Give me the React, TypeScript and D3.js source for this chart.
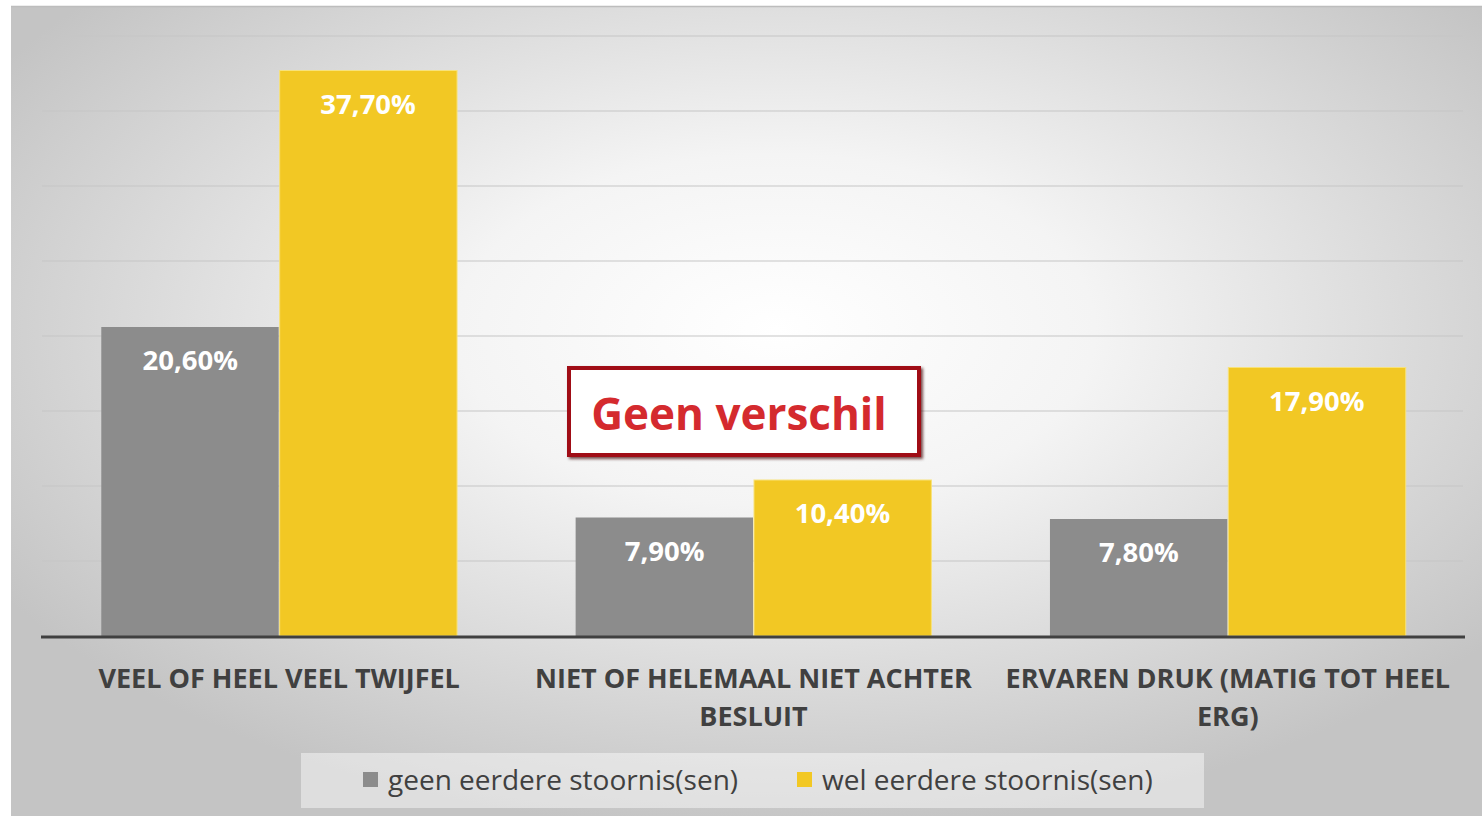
import React from "react";
import * as d3 from "d3";

const categories = [
  "VEEL OF HEEL VEEL TWIJFEL",
  "NIET OF HELEMAAL NIET ACHTER BESLUIT",
  "ERVAREN DRUK (MATIG TOT HEEL ERG)"
];
const categoryLines = [
  ["VEEL OF HEEL VEEL TWIJFEL"],
  ["NIET OF HELEMAAL NIET ACHTER", "BESLUIT"],
  ["ERVAREN DRUK (MATIG TOT HEEL", "ERG)"]
];
const seriesNames = ["geen eerdere stoornis(sen)", "wel eerdere stoornis(sen)"];
const geenValues = [20.6, 7.9, 7.8];
const welValues = [37.7, 10.4, 17.9];
const yTicks = [0, 5, 10, 15, 20, 25, 30, 35, 40];
const colors = ["#8c8c8c", "#f2c824"];

const W = 1482;
const H = 816;
const plot = { left: 42, right: 1465, top: 36, bottom: 636 };
const font = "'Open Sans', 'DejaVu Sans', sans-serif";

const fmt = (v: number) => v.toFixed(2).replace(".", ",") + "%";

export default function App() {
  const x0 = d3
    .scaleBand<string>()
    .domain(categories)
    .range([plot.left, plot.right])
    .paddingInner(0.25)
    .paddingOuter(0.125);
  const x1 = d3
    .scaleBand<string>()
    .domain(seriesNames)
    .range([0, x0.bandwidth()]);
  const y = d3.scaleLinear().domain([0, 40]).range([plot.bottom, plot.top]);

  const series = [geenValues, welValues];

  return (
    <svg
      width={W}
      height={H}
      style={{ position: "absolute", left: 0, top: 0, display: "block" }}
    >
      <defs>
        <radialGradient id="bg" cx="0.52" cy="0.4" r="0.62" fx="0.52" fy="0.4">
          <stop offset="0" stopColor="#ffffff" />
          <stop offset="0.35" stopColor="#f4f4f4" />
          <stop offset="1" stopColor="#c4c4c4" />
        </radialGradient>
        <filter id="shadow" x="-5%" y="-10%" width="115%" height="130%">
          <feDropShadow dx="2" dy="2" stdDeviation="1.5" floodColor="#400000" floodOpacity="0.7" />
        </filter>
      </defs>
      <rect x={0} y={0} width={W} height={H} fill="#ffffff" />
      <rect x={11} y={6} width={W - 11} height={H - 6} fill="url(#bg)" />
      <line x1={11} x2={W} y1={6.5} y2={6.5} stroke="#bdbdbd" strokeWidth={1.5} />

      {yTicks.slice(1).map(t => (
        <line
          key={t}
          x1={plot.left}
          x2={plot.right - 2}
          y1={y(t)}
          y2={y(t)}
          stroke="#c6c6c6"
          strokeWidth={1.2}
        />
      ))}

      {categories.map((c, i) => (
        <g key={c} transform={`translate(${x0(c)},0)`}>
          {seriesNames.map((s, j) => {
            const v = series[j][i];
            const bx = x1(s) as number;
            const bw = x1.bandwidth();
            return (
              <g key={s}>
                <rect
                  x={bx + (j === 1 ? 0.5 : 0)}
                  y={y(v)}
                  width={bw - 0.5}
                  height={y(0) - y(v)}
                  fill={colors[j]}
                  stroke={j === 1 ? "#f7e27a" : "none"}
                  strokeWidth={1}
                />
                <text
                  x={bx + bw / 2}
                  y={y(v) + 43}
                  textAnchor="middle"
                  fill="#ffffff"
                  fontFamily={font}
                  fontWeight={700}
                  fontSize={27.5}
                >
                  {fmt(v)}
                </text>
              </g>
            );
          })}
        </g>
      ))}

      <line
        x1={plot.left - 1}
        x2={plot.right}
        y1={y(0) + 1}
        y2={y(0) + 1}
        stroke="#404040"
        strokeWidth={3}
      />

      {categories.map((c, i) => (
        <text
          key={c}
          x={(x0(c) as number) + x0.bandwidth() / 2}
          y={688}
          textAnchor="middle"
          fill="#404040"
          fontFamily={font}
          fontWeight={700}
          fontSize={27}
        >
          {categoryLines[i].map((l, k) => (
            <tspan key={k} x={(x0(c) as number) + x0.bandwidth() / 2} dy={k === 0 ? 0 : 38}>
              {l}
            </tspan>
          ))}
        </text>
      ))}

      <g filter="url(#shadow)">
        <rect x={569} y={368} width={350} height={87} fill="#ffffff" stroke="#a00d12" strokeWidth={4} />
      </g>
      <text
        x={739}
        y={430}
        textAnchor="middle"
        fill="#d42a2e"
        fontFamily={font}
        fontWeight={700}
        fontSize={44}
      >
        Geen verschil
      </text>

      <rect x={301} y={753} width={903} height={55} fill="#ffffff" opacity={0.45} />
      {seriesNames.map((s, j) => {
        const lx = j === 0 ? 363 : 797;
        return (
          <g key={s}>
            <rect x={lx} y={772} width={15} height={15} fill={colors[j]} />
            <text
              x={lx + 25}
              y={790}
              fill="#404040"
              fontFamily={font}
              fontSize={28}
            >
              {s}
            </text>
          </g>
        );
      })}
    </svg>
  );
}
